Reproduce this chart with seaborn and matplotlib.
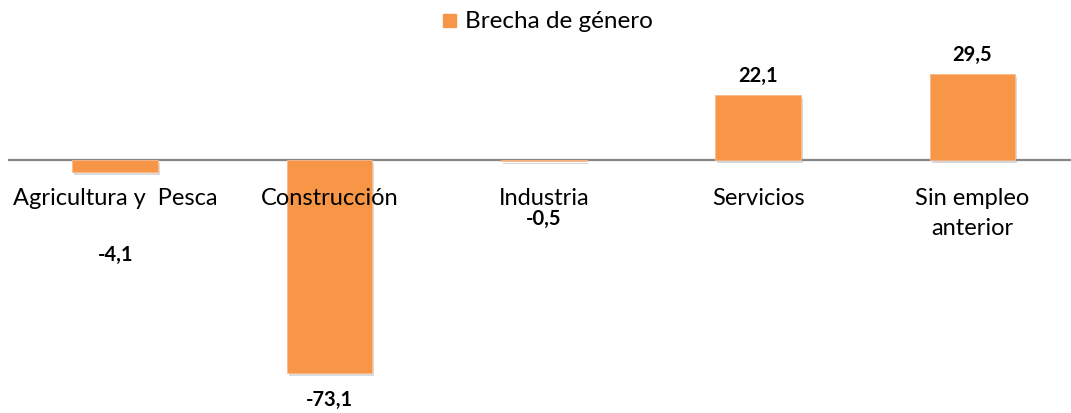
import matplotlib
matplotlib.use("Agg")
import matplotlib.pyplot as plt
import matplotlib.patheffects as pe
import seaborn as sns
import pandas as pd

categorias = ["Agricultura y  Pesca", "Construcción", "Industria", "Servicios", "Sin empleo\nanterior"]
brecha = [-4.1, -73.1, -0.5, 22.1, 29.5]
etiquetas = ["-4,1", "-73,1", "-0,5", "22,1", "29,5"]
# vertical positions (data units) where the value labels were dragged to
pos_etiquetas = [-32.2, -81.8, -19.9, 29.1, 36.3]

NARANJA = "#F79646"
PX = 2.92  # pixels per data unit

sns.set_theme(style="white")
plt.rcParams["font.family"] = ["Lato", "DejaVu Sans"]

df = pd.DataFrame({"categoria": categorias, "brecha": brecha})

fig = plt.figure(figsize=(10.71, 4.14), dpi=100)
ax = fig.add_axes([8 / 1071, 0, 1063 / 1071, 1])

sns.barplot(data=df, x="categoria", y="brecha", color=NARANJA, saturation=1,
            width=0.4, ax=ax, zorder=3)
for p in ax.patches:
    p.set_edgecolor("#FBB98A")
    p.set_linewidth(0.6)
    p.set_path_effects([pe.SimplePatchShadow(offset=(1.5, -2), shadow_rgbFace="#999999", alpha=0.35),
                        pe.Normal()])

ax.axhline(0, color="#868686", lw=1.6, zorder=2)

ax.set_xlim(-0.5, 4.46)
ax.set_ylim(-(414 - 161) / PX, 161 / PX)
ax.axis("off")

# category names sit just under the zero line, one text per line
for i, c in enumerate(categorias):
    for k, linea in enumerate(c.split("\n")):
        ax.text(i, -15.1 - k * 30 / PX, linea, ha="center", va="baseline",
                fontsize=17, color="black", zorder=5)

for i, (t, y) in enumerate(zip(etiquetas, pos_etiquetas)):
    ax.text(i, y, t, ha="center", va="center", fontsize=14.5,
            fontweight="bold", color="black", zorder=5)

# legend
fig.patches.append(plt.Rectangle((443 / 1071, 1 - 28 / 414), 13 / 1071, 13 / 414,
                                 transform=fig.transFigure, color=NARANJA, figure=fig))
fig.text(465 / 1071, 1 - 22 / 414, "Brecha de género", ha="left", va="center",
         fontsize=17.5, color="black")

fig.savefig("out.png", dpi=100)
plt.close(fig)
